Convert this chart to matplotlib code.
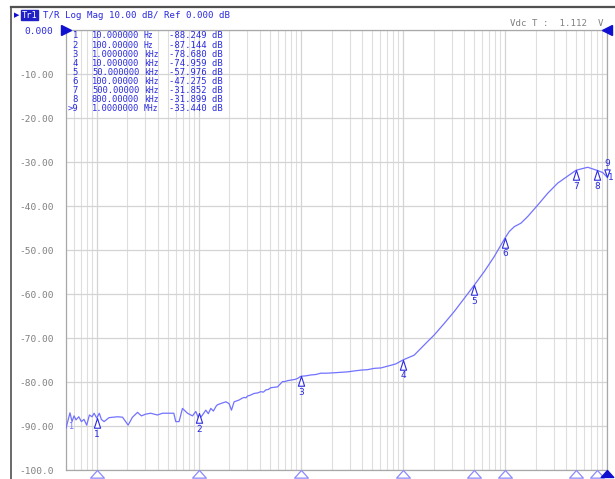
import numpy as np
import matplotlib
matplotlib.use("Agg")
import matplotlib.pyplot as plt
from matplotlib.path import Path
from matplotlib.lines import Line2D
from matplotlib.patches import Rectangle
from matplotlib.ticker import LogLocator, NullFormatter

# trace (Hz, dB)
freq = [5.0, 5.47, 5.73, 5.99, 6.27, 6.67, 7.08, 7.5, 7.98, 8.48, 9.0, 9.42,
        10.0, 10.6, 11.1, 11.8, 13.2, 16.0, 17.9, 20.3, 22.4, 25.1, 27.4, 30.2,
        33.8, 39.3, 44.1, 51.2, 56.9, 59.5, 64.1, 69.2, 77.5, 86.8, 93.5, 100.7,
        108.7, 117.2, 124, 131.2, 139, 147.9, 152, 164, 184, 198, 209, 222, 248,
        265, 278, 290, 300, 320, 348, 375, 405, 430, 454, 480, 508, 550, 591, 662,
        700, 741, 830, 880, 929, 1000, 1120, 1254, 1400, 1571, 1800, 2120, 2450,
        2870, 3300, 3873, 4500, 5236, 6100, 7079, 8500, 10000, 12900, 16800,
        20300, 25400, 31800, 39900, 50000, 62700, 78500, 100000, 110200, 123400,
        143500, 167000, 209400, 262600, 329000, 412000, 500000, 647000, 800000,
        908000, 1000000]
mag = [-90.5, -87.0, -89.0, -87.7, -88.6, -87.9, -89.0, -88.5, -89.8, -87.5,
       -87.9, -87.1, -88.2, -87.1, -88.5, -89.0, -88.1, -87.9, -88.0, -89.8,
       -88.0, -86.9, -87.7, -87.3, -87.1, -87.5, -87.1, -87.1, -87.1, -89.0,
       -89.0, -86.0, -87.1, -87.7, -86.7, -88.5, -87.5, -86.4, -87.2, -86.0,
       -86.6, -85.5, -85.2, -84.9, -84.5, -84.9, -86.4, -84.5, -84.1, -83.7,
       -83.5, -83.6, -83.2, -83.0, -82.6, -82.5, -82.2, -82.3, -81.8, -81.7,
       -81.3, -81.2, -81.1, -79.9, -79.9, -79.7, -79.5, -79.4, -79.2, -78.7,
       -78.6, -78.4, -78.3, -78.0, -78.0, -77.9, -77.8, -77.7, -77.5, -77.3,
       -77.2, -76.9, -76.8, -76.4, -75.9, -75.0, -73.9, -71.2, -69.3, -66.7,
       -64.0, -61.0, -58.0, -54.9, -51.5, -47.3, -45.8, -44.7, -43.9, -42.4,
       -39.8, -37.1, -34.8, -33.2, -31.85, -31.2, -31.9, -32.4, -33.4]

mk_freq = [10, 100, 1e3, 1e4, 5e4, 1e5, 5e5, 8e5, 1e6]
mk_mag = [-88.249, -87.144, -78.680, -74.959, -57.976, -47.275, -31.852,
          -31.899, -33.440]
mk_fstr = ["10.000000", "100.00000", "1.0000000", "10.000000", "50.000000",
           "100.00000", "500.00000", "800.00000", "1.0000000"]
mk_unit = ["Hz", "Hz", "kHz", "kHz", "kHz", "kHz", "kHz", "kHz", "MHz"]
mk_id = ["1", "2", "3", "4", "5", "6", "7", "8", ">9"]

yticks = [0, -10, -20, -30, -40, -50, -60, -70, -80, -90, -100]
ylabels = ["0.000", "-10.00", "-20.00", "-30.00", "-40.00", "-50.00",
           "-60.00", "-70.00", "-80.00", "-90.00", "-100.0"]

TRACE = "#7272ff"
MKBLUE = "#2a2ae0"
GRAY = "#808080"
MONO = "DejaVu Sans Mono"

W, H = 615, 479
fig = plt.figure(figsize=(W / 100, H / 100), dpi=100)
ax = fig.add_axes([66 / W, 1 - 470 / H, (607 - 66) / W, 440 / H])

ax.set_xscale("log")
ax.set_xlim(5, 1e6)
ax.set_ylim(-100, 0)
ax.xaxis.set_major_locator(LogLocator(base=10, numticks=20))
ax.xaxis.set_minor_locator(LogLocator(base=10, subs=np.arange(2, 10), numticks=20))
ax.xaxis.set_major_formatter(NullFormatter())
ax.xaxis.set_minor_formatter(NullFormatter())
ax.set_yticks(yticks)
ax.set_yticklabels(ylabels, family=MONO, fontsize=6.8, color=GRAY)
ax.get_yticklabels()[0].set_color(MKBLUE)
ax.tick_params(which="both", length=0)
ax.tick_params(axis="y", pad=9)
ax.grid(True, which="major", color="#d4d4d4", lw=0.9)
ax.grid(True, which="minor", axis="x", color="#dedede", lw=0.8)
for s in ax.spines.values():
    s.set_color("#a8a8a8")
    s.set_linewidth(0.9)

ax.plot(freq, mag, color=TRACE, lw=0.9, zorder=3)

# marker symbols: tip on the point, body below
up = Path([(0, 0), (-0.32, -1), (0.32, -1), (0, 0)],
          [Path.MOVETO, Path.LINETO, Path.LINETO, Path.CLOSEPOLY])
down = Path([(0, 0), (-0.35, 1), (0.35, 1), (0, 0)],
            [Path.MOVETO, Path.LINETO, Path.LINETO, Path.CLOSEPOLY])
flat = Path([(0, 0), (-0.9, -1), (0.9, -1), (0, 0)],
            [Path.MOVETO, Path.LINETO, Path.LINETO, Path.CLOSEPOLY])

for i, (f, m) in enumerate(zip(mk_freq[:8], mk_mag[:8])):
    ax.plot(f, m, marker=up, ms=14, mfc="white", mec=MKBLUE, mew=0.8,
            ls="none", zorder=4)
    ax.annotate(str(i + 1), (f, m), xytext=(0, -11.5), textcoords="offset points",
                ha="center", va="center", fontsize=6.5, color=MKBLUE, zorder=5)
ax.plot(mk_freq[8], mk_mag[8], marker=down, ms=11, mfc="white", mec=MKBLUE,
        mew=0.8, ls="none", clip_on=False, zorder=4)
ax.annotate("9", (mk_freq[8], mk_mag[8]), xytext=(0, 10), textcoords="offset points",
            ha="center", va="center", fontsize=6.5, color=MKBLUE, annotation_clip=False)
ax.annotate("1", (mk_freq[8], mk_mag[8]), xytext=(2.5, -0.5), textcoords="offset points",
            ha="center", va="center", fontsize=6.5, color=MKBLUE, annotation_clip=False)
ax.annotate("1", (freq[0], mag[0]), xytext=(3.5, 1), textcoords="offset points",
            ha="center", va="center", fontsize=6, color=TRACE)

# triangles along the bottom edge
ax.plot(mk_freq[:8], [-100] * 8, marker=flat, ms=11, mfc="white", mec="#8a8aff",
        mew=0.9, ls="none", clip_on=False, zorder=5)
ax.plot(mk_freq[8], -100, marker=flat, ms=10, mfc="#1010d0", mec="#1010d0",
        ls="none", clip_on=False, zorder=6)

# reference level pointers
ax.plot(5, 0, marker=">", ms=7, color="#1010d0", ls="none", clip_on=False,
        zorder=6)
ax.plot(1e6, 0, marker="<", ms=7, color="#1010d0", ls="none", clip_on=False,
        zorder=6)

# marker readout table
for i in range(9):
    y = 36 + i * 9.1
    fy = 1 - y / H
    fig.text(78 / W, fy, mk_id[i], family=MONO, fontsize=6.4, color=MKBLUE,
             ha="right", va="center")
    fig.text(92 / W, fy, mk_fstr[i], family=MONO, fontsize=6.3, color=MKBLUE,
             va="center")
    fig.text(144 / W, fy, mk_unit[i], family=MONO, fontsize=5.8, color=MKBLUE,
             va="center")
    fig.text(223 / W, fy, f"{mk_mag[i]:.3f} dB", family=MONO, fontsize=6.4,
             color=MKBLUE, ha="right", va="center")

# instrument header
fig.add_artist(Line2D([11 / W, 1], [1 - 7 / H, 1 - 7 / H], color="#505050", lw=1.6))
fig.add_artist(Line2D([11 / W, 11 / W], [0, 1 - 7 / H], color="#505050", lw=1.2))
fig.text(14 / W, 1 - 15 / H, "\u25b6", fontsize=5, color="#1010d0", va="center")
fig.add_artist(Rectangle((21 / W, 1 - 20 / H), 17 / W, 10 / H, color="#2020c8",
                         transform=fig.transFigure))
fig.text(29.5 / W, 1 - 15 / H, "Tr1", family=MONO, fontsize=6.3, color="white",
         ha="center", va="center")
fig.text(43 / W, 1 - 15 / H, "T/R Log Mag 10.00 dB/ Ref 0.000 dB", family=MONO,
         fontsize=6.6, color=MKBLUE, va="center")
fig.text(604 / W, 1 - 23 / H, "Vdc T :  1.112  V", family=MONO, fontsize=6.6,
         color=GRAY, ha="right", va="center")

fig.savefig("out.png", dpi=100)
